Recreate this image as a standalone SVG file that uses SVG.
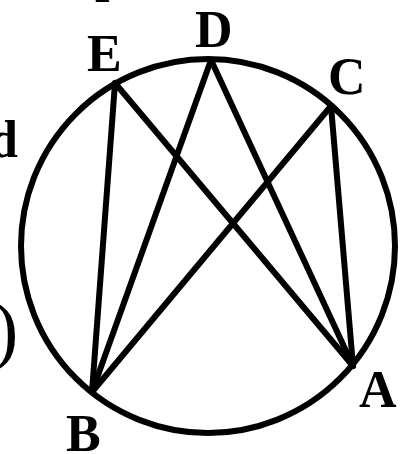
<svg xmlns="http://www.w3.org/2000/svg" width="406" height="454" viewBox="0 0 406 454">
<style>
.lbl{font-family:"Liberation Serif","Times New Roman",serif;font-weight:bold;font-size:52px;fill:#000}
.ln{stroke:#000;stroke-width:6;fill:none;stroke-linecap:round}
</style>
<rect width="406" height="454" fill="#fff"/>
<text class="lbl" x="95" y="-9">p</text>
<text class="lbl" x="-11" y="157">d</text>
<text x="-7" y="355" style="font-family:'Liberation Serif',serif;font-size:76px">)</text>
<g id="circle"><circle cx="208" cy="246" r="187" class="ln"/></g>
<g id="connectors">
<line class="ln" x1="115" y1="83" x2="92" y2="392"/>
<line class="ln" x1="115" y1="83" x2="353" y2="366"/>
<line class="ln" x1="211" y1="60" x2="92" y2="392"/>
<line class="ln" x1="211" y1="60" x2="353" y2="366"/>
<line class="ln" x1="331" y1="106" x2="92" y2="392"/>
<line class="ln" x1="331" y1="106" x2="353" y2="366"/>
</g>
<g id="E"><text class="lbl" x="87" y="71">E</text></g>
<g id="D"><text class="lbl" x="195" y="47">D</text></g>
<g id="C"><text class="lbl" x="328" y="94">C</text></g>
<g id="A"><text class="lbl" x="359" y="407">A</text></g>
<g id="B"><text class="lbl" x="66" y="451">B</text></g>
</svg>
